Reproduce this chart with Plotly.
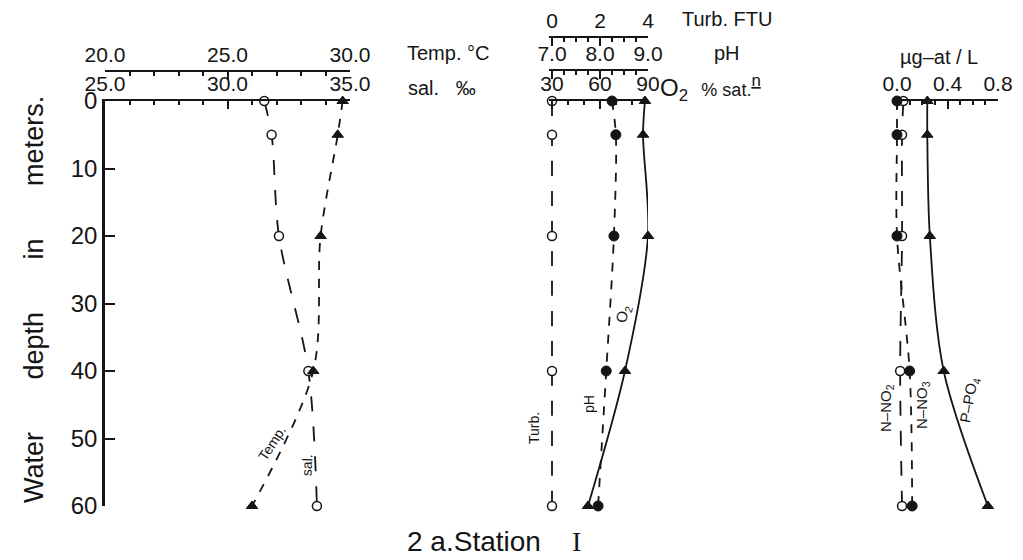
import plotly.graph_objects as go

# ---------------- data ----------------
depth = [0, 5, 20, 40, 60]
depth_ticks = [0, 10, 20, 30, 40, 50, 60]
depth_labels = ["0", "10", "20", "30", "40", "50", "60"]

temp = [29.7, 29.5, 28.8, 28.5, 26.0]      # deg C
sal = [31.5, 31.8, 32.1, 33.3, 33.65]      # permil
turb = [0.0, 0.0, 0.0, 0.0, 0.0]           # FTU
ph = [8.25, 8.33, 8.29, 8.13, 7.96]
o2 = [88.1, 86.9, 90.0, 75.6, 52.5]        # % sat.
no2 = [0.05, 0.04, 0.04, 0.025, 0.04]      # ug-at/L
no3 = [0.0, 0.0, 0.0, 0.10, 0.12]
po4 = [0.24, 0.24, 0.26, 0.37, 0.72]

temp_ticks = [20, 25, 30]
temp_labels = ["20.0", "25.0", "30.0"]
sal_ticks = [25, 30, 35]
sal_labels = ["25.0", "30.0", "35.0"]
turb_ticks = [0, 2, 4]
turb_labels = ["0", "2", "4"]
ph_ticks = [7, 8, 9]
ph_labels = ["7.0", "8.0", "9.0"]
o2_ticks = [30, 60, 90]
o2_labels = ["30", "60", "90"]
nut_ticks = [0.0, 0.4, 0.8]
nut_labels = ["0.0", "0.4", "0.8"]

# ---------------- layout helpers ----------------
W, H = 1023, 560
OFF = 8          # page body margin
INK = "#151515"
FONT = "Liberation Sans"


def fx(p):
    return (p - OFF) / W


def fy(p):
    return 1 - (p - OFF) / H


def ext_range(v0, v1, p0, p1, pad):
    # extend a range a few pixels to the left so lines at v0 are not clipped
    return [v0 - pad * (v1 - v0) / (p1 - p0), v1], [fx(p0 - pad), fx(p1)]


Y_TOP, Y_BOT = 101, 506

common_x = dict(
    showline=True, linecolor=INK, linewidth=2, showgrid=False, zeroline=False,
    ticks="inside", tickcolor=INK, tickwidth=1.5, ticklen=8, automargin=False,
    tickfont=dict(family=FONT, size=21, color=INK), side="top", fixedrange=True,
)

fig = go.Figure()

mk_open = dict(symbol="circle", size=9, color="white", line=dict(color=INK, width=1.5))
mk_fill = dict(symbol="circle", size=10, color=INK, line=dict(color=INK, width=1))
mk_tri = dict(symbol="triangle-up", size=10, color=INK, line=dict(color=INK, width=1))


def add(x, xa, marker, dash):
    fig.add_trace(go.Scatter(
        x=x, y=depth, xaxis=xa, yaxis="y", mode="lines+markers",
        line=dict(color=INK, width=1.8, dash=dash, shape="spline", smoothing=0.9),
        marker=marker, cliponaxis=False, showlegend=False, hoverinfo="skip",
    ))


# panel 1
add(sal, "x", mk_open, "longdash")
add(temp, "x2", mk_tri, "dash")
# panel 2
add(turb, "x5", mk_open, "longdash")
add(ph, "x4", mk_fill, "dash")
add(o2, "x3", mk_tri, "solid")
# panel 3
add(no2, "x6", mk_open, "longdash")
add(no3, "x6", mk_fill, "dash")
add(po4, "x6", mk_tri, "solid")

r1 = [25, 35]
d1 = [fx(105), fx(350)]
r3, d3 = ext_range(30, 90, 552, 648, 3)
r6, d6 = ext_range(0.0, 0.8, 897, 998, 3)
r4 = [7 - 3 * 2 / 96, 9]
r5 = [0 - 3 * 4 / 96, 4]

fig.update_layout(
    template="none",
    width=W, height=H, autosize=False,
    margin=dict(l=0, r=0, t=0, b=0, pad=0),
    paper_bgcolor="white", plot_bgcolor="rgba(0,0,0,0)",
    showlegend=False,
    font=dict(family=FONT, color=INK),
    xaxis=dict(common_x, domain=d1, range=r1, anchor="y",
               tickvals=sal_ticks, ticktext=sal_labels,
               minor=dict(dtick=1, tick0=25, ticklen=4, ticks="inside", tickcolor=INK)),
    xaxis2=dict(common_x, overlaying="x", anchor="free", position=fy(71), range=[20, 30],
                tickvals=temp_ticks, ticktext=temp_labels,
                minor=dict(dtick=1, tick0=20, ticklen=4, ticks="inside", tickcolor=INK)),
    xaxis3=dict(common_x, domain=d3, range=r3, anchor="y",
                tickvals=o2_ticks, ticktext=o2_labels,
                minor=dict(dtick=10, tick0=30, ticklen=4, ticks="inside", tickcolor=INK)),
    xaxis4=dict(common_x, overlaying="x3", anchor="free", position=fy(70), range=r4,
                tickvals=ph_ticks, ticktext=ph_labels,
                minor=dict(dtick=0.25, tick0=7, ticklen=4, ticks="inside", tickcolor=INK)),
    xaxis5=dict(common_x, overlaying="x3", anchor="free", position=fy(37), range=r5,
                tickvals=turb_ticks, ticktext=turb_labels,
                minor=dict(dtick=0.5, tick0=0, ticklen=4, ticks="inside", tickcolor=INK)),
    xaxis6=dict(common_x, domain=d6, range=r6, anchor="y",
                tickvals=nut_ticks, ticktext=nut_labels,
                minor=dict(dtick=0.1, tick0=0, ticklen=4, ticks="inside", tickcolor=INK)),
    yaxis=dict(domain=[fy(Y_BOT), fy(Y_TOP)], range=[60, 0], anchor="x", automargin=False,
               showline=True, linecolor=INK, linewidth=2.5, showgrid=False, zeroline=False,
               ticks="inside", ticklen=10, tickwidth=1.5, tickcolor=INK,
               tickvals=depth_ticks, ticktext=depth_labels,
               tickfont=dict(family=FONT, size=24, color=INK), fixedrange=True),
)


def note(text, x, y, size=20, angle=0, xanchor="center", family=FONT):
    fig.add_annotation(text=text, x=fx(x), y=fy(y), xref="paper", yref="paper",
                       showarrow=False, textangle=angle, xanchor=xanchor, yanchor="middle",
                       font=dict(family=family, size=size, color=INK))


NB = "\u00a0"
note("Water" + NB * 7 + "depth" + NB * 7 + "in" + NB * 7 + "meters.", 34, 300, size=27, angle=-90)
note("Temp." + NB + "°C", 405, 53, size=20, xanchor="left")
note("sal." + NB * 3 + "‰", 406, 88, size=20, xanchor="left")
note("Turb." + NB + "FTU", 680, 19, size=20, xanchor="left")
note("pH", 712, 53, size=20, xanchor="left")
note("O<sub>2</sub>" + NB * 2 + "<span style='font-size:18px'>% sat.</span>"
     "<sup><span style='text-decoration:underline'>n</span></sup>",
     658, 88, size=24, xanchor="left")
note("µg–at" + NB + "/" + NB + "L", 898, 57, size=20, xanchor="left")

note("Temp.", 272, 443, size=14, angle=-57)
note("sal.", 307, 465, size=14, angle=-88)
note("O<sub>2</sub>", 624, 314, size=15, angle=-75)
note("pH", 589, 404, size=14, angle=-90)
note("Turb.", 534, 428, size=14, angle=-90)
note("N–NO<sub>2</sub>", 886, 408, size=15, angle=-90)
note("N–NO<sub>3</sub>", 922, 405, size=15, angle=-90)
note("P–PO<sub>4</sub>", 969, 400, size=15, angle=-80)

note("2" + NB + "a.Station" + NB * 4 + "<span style='font-family:Liberation Serif'>I</span>",
     405, 541, size=28, xanchor="left")

fig.write_html("out.html")
